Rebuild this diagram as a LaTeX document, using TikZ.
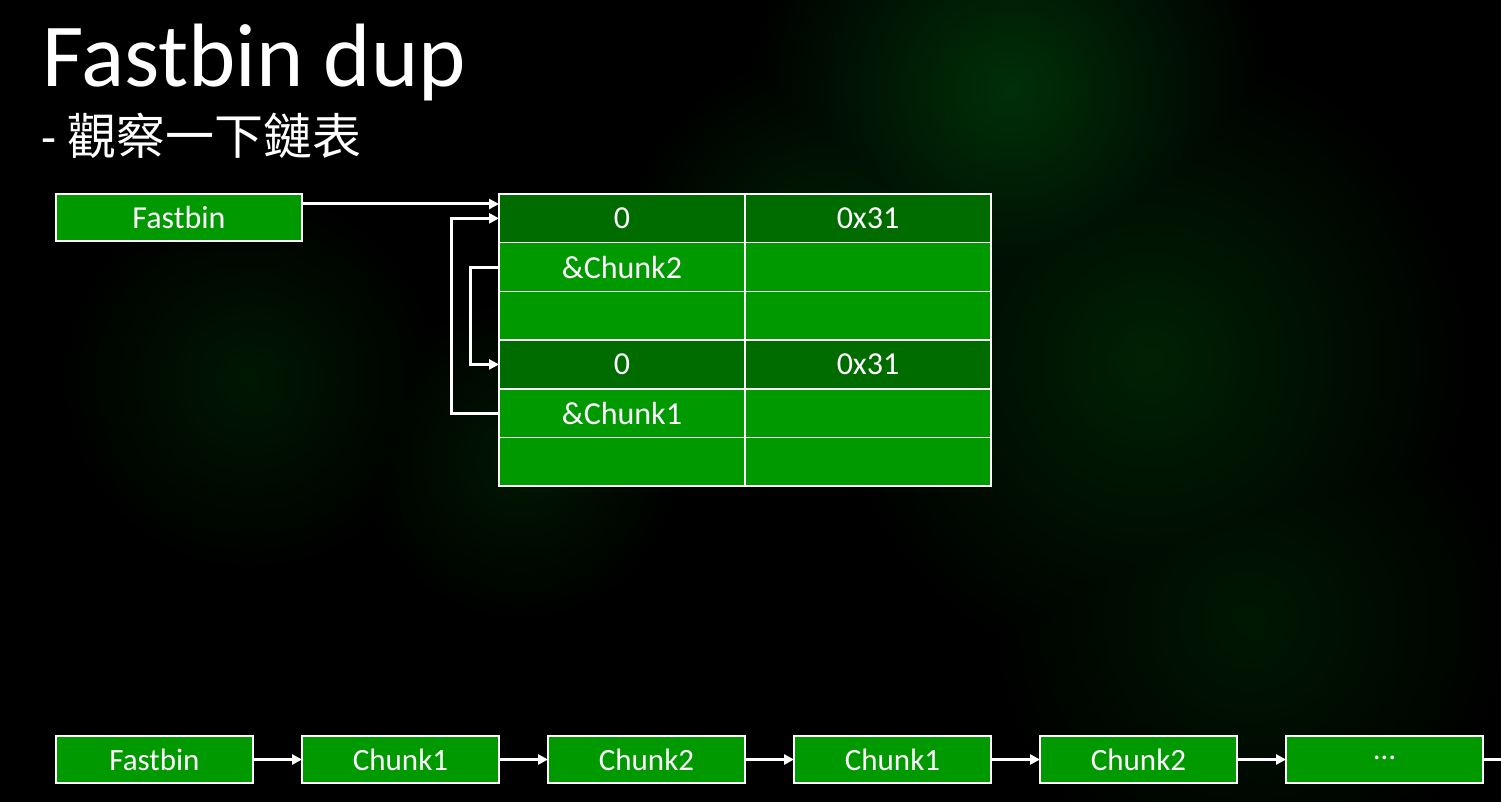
\documentclass[tikz,border=0pt]{standalone}
\usepackage{fontspec}
\setmainfont{Carlito}
\newfontfamily\cjk{Noto Sans CJK TC}
\usetikzlibrary{arrows.meta,calc}
\definecolor{hdrgreen}{RGB}{0,108,0}
\definecolor{boxgreen}{RGB}{0,153,0}
\definecolor{glowA}{RGB}{0,48,8}
\definecolor{glowB}{RGB}{0,34,4}
\definecolor{glowC}{RGB}{0,24,2}
\tikzset{
  cell/.style={draw=white, line width=1.5pt, minimum width=246pt, minimum height=48.7pt,
    inner sep=0pt, outer sep=0pt, text=white, font=\fontsize{32}{32}\selectfont},
  hdr/.style={cell, fill=hdrgreen},
  bodycell/.style={cell, fill=boxgreen},
  listbox/.style={draw=white, line width=1.5pt, fill=boxgreen, minimum width=197pt,
    minimum height=47pt, inner sep=0pt, outer sep=0pt, text=white,
    font=\fontsize{31}{31}\selectfont},
  arr/.style={draw=white, line width=3pt, -{Triangle[length=10pt,width=10pt]}},
  glow/.style={blend mode=lighten}
}
\begin{document}
\begin{tikzpicture}[x=1pt,y=-1pt]
  \fill[black] (0,0) rectangle (1501,802);
  \useasboundingbox (0,0) rectangle (1501,802);
  % faint green glow in the background
  \begin{scope}[glow]
    \shade[inner color=glowA, outer color=black] (1010,90) circle (260);
    \shade[inner color=glowB, outer color=black] (1150,360) circle (320);
    \shade[inner color=glowB, outer color=black] (830,260) circle (210);
    \shade[inner color=glowC, outer color=black] (250,380) circle (190);
    \shade[inner color=glowC, outer color=black] (1250,620) circle (260);
    \shade[inner color=glowC, outer color=black] (520,460) circle (160);
  \end{scope}

  % titles
  \node[anchor=base west, inner sep=0pt, text=white, font=\fontsize{90}{90}\selectfont]
    (title) at (42,87) {Fastbin dup};
  \node[anchor=base west, inner sep=0pt, text=white, font=\fontsize{49}{49}\selectfont]
    (subtitle) at (41,155) {- {\cjk 觀察一下鏈表}};

  % fastbin head
  \node[listbox, minimum width=246pt, font=\fontsize{32}{32}\selectfont] (fb) at (179,217.5) {Fastbin};

  % chunk table
  \foreach \i/\st/\l/\r in {0/hdr/0/0x31, 1/bodycell/\&Chunk2/, 2/bodycell//,
                            3/hdr/0/0x31, 4/bodycell/\&Chunk1/, 5/bodycell//} {
    \node[\st] (r\i L) at (622, 218.35+48.7*\i) {\l};
    \node[\st] (r\i R) at (868, 218.35+48.7*\i) {\r};
  }

  % arrows of the top part
  \draw[arr] ([yshift=-10pt]fb.north east) -- ([yshift=-10pt]r0L.north west);
  \draw[arr] (r4L.west) -- ++(-48,0) |- (r0L.west);
  \draw[arr] (r1L.west) -- ++(-29,0) |- (r3L.west);

  % list at the bottom
  \node[listbox] (b1) at (154.5,759.5) {Fastbin};
  \node[listbox] (b2) at (400.5,759.5) {Chunk1};
  \node[listbox] (b3) at (646.5,759.5) {Chunk2};
  \node[listbox] (b4) at (892.5,759.5) {Chunk1};
  \node[listbox] (b5) at (1138.5,759.5) {Chunk2};
  \node[listbox] (b6) at (1384.5,759.5) {\raisebox{4pt}{…}};
  \coordinate (edge) at (1503,759.5);
  \draw[arr] (b1) -- (b2);
  \draw[arr] (b2) -- (b3);
  \draw[arr] (b3) -- (b4);
  \draw[arr] (b4) -- (b5);
  \draw[arr] (b5) -- (b6);
  \draw[draw=white, line width=3pt] (b6) -- (edge);
\end{tikzpicture}
\end{document}
